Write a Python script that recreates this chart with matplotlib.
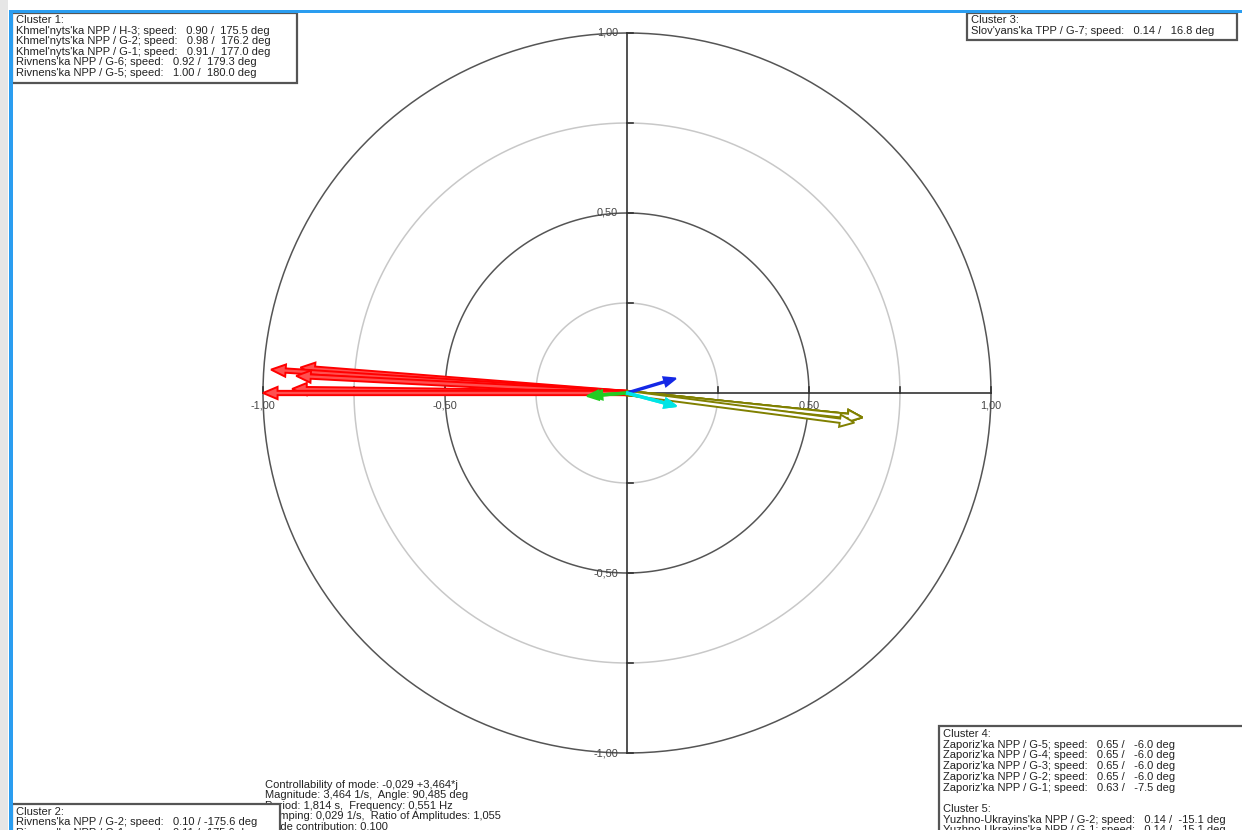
import numpy as np
import matplotlib.pyplot as plt
from matplotlib.patches import Rectangle

plt.rcParams['font.family'] = ['Liberation Sans', 'DejaVu Sans']

# cluster data: machine names, normalized speed magnitude, angle in degrees
c1_names = ["Khmel'nyts'ka NPP / H-3", "Khmel'nyts'ka NPP / G-2", "Khmel'nyts'ka NPP / G-1",
            "Rivnens'ka NPP / G-6", "Rivnens'ka NPP / G-5"]
c1_speed = [0.90, 0.98, 0.91, 0.92, 1.00]
c1_angle = [175.5, 176.2, 177.0, 179.3, 180.0]

c2_names = ["Rivnens'ka NPP / G-2", "Rivnens'ka NPP / G-1"]
c2_speed = [0.10, 0.11]
c2_angle = [-175.6, -175.6]

c3_names = ["Slov'yans'ka TPP / G-7"]
c3_speed = [0.14]
c3_angle = [16.8]

c4_names = ["Zaporiz'ka NPP / G-5", "Zaporiz'ka NPP / G-4", "Zaporiz'ka NPP / G-3",
            "Zaporiz'ka NPP / G-2", "Zaporiz'ka NPP / G-1"]
c4_speed = [0.65, 0.65, 0.65, 0.65, 0.63]
c4_angle = [-6.0, -6.0, -6.0, -6.0, -7.5]

c5_names = ["Yuzhno-Ukrayins'ka NPP / G-2", "Yuzhno-Ukrayins'ka NPP / G-1"]
c5_speed = [0.14, 0.14]
c5_angle = [-15.1, -15.1]

mode_info = ["Controllability of mode: -0,029 +3,464*j",
             "Magnitude: 3,464 1/s,  Angle: 90,485 deg",
             "Period: 1,814 s,  Frequency: 0,551 Hz",
             "Damping: 0,029 1/s,  Ratio of Amplitudes: 1,055",
             "Mode contribution: 0,100"]

ring_values = [0.25, 0.50, 0.75, 1.00]
tick_values = [-1.0, -0.75, -0.5, -0.25, 0.25, 0.5, 0.75, 1.0]
label_values = [-1.0, -0.5, 0.5, 1.0]

W, H = 1242, 830
cx, cy = 627, 393      # plot centre in pixels
rx, ry = 364, 360      # pixels per unit
FS = 8.0

fig = plt.figure(figsize=(W / 100, H / 100), dpi=100)
ax = fig.add_axes([0, 0, 1, 1])
ax.set_xlim(-cx / rx, (W - cx) / rx)
ax.set_ylim((cy - H) / ry, cy / ry)
ax.axis('off')

# rings
t = np.linspace(0, 2 * np.pi, 400)
for r in ring_values:
    col = '#555555' if r in (0.5, 1.0) else '#c8c8c8'
    ax.plot(r * np.cos(t), r * np.sin(t), color=col, lw=1.1, zorder=1)

# axes cross and ticks
ax.plot([-1, 1], [0, 0], color='#333333', lw=1.2, zorder=2)
ax.plot([0, 0], [-1, 1], color='#333333', lw=1.2, zorder=2)
for v in tick_values:
    ax.plot([v, v], [0, 6 / ry], color='#333333', lw=1.2, zorder=2)
    ax.plot([0, 6 / rx], [v, v], color='#333333', lw=1.2, zorder=2)
for v in label_values:
    s = f'{v:.2f}'.replace('.', ',')
    ax.text(v, -13 / ry, s, ha='center', va='center', fontsize=7.8, color='#444444')
    ax.text(-9 / rx, v, s, ha='right', va='center', fontsize=7.8, color='#444444')


def draw_vectors(speed, angle, color, fill, hw, hl, w):
    a = np.radians(angle)
    for s, ang in zip(speed, a):
        ax.arrow(0, 0, s * np.cos(ang), s * np.sin(ang), length_includes_head=True,
                 width=w, head_width=hw, head_length=hl,
                 fc=fill, ec=color, lw=1.4, zorder=3)


draw_vectors(c1_speed, c1_angle, '#ff0000', '#ff5050', 0.034, 0.04, 0.012)
draw_vectors(c4_speed, c4_angle, '#808000', 'white', 0.034, 0.04, 0.012)
draw_vectors(c3_speed, c3_angle, '#1428e6', '#1428e6', 0.026, 0.032, 0.004)
draw_vectors(c2_speed, c2_angle, '#22cc22', '#22cc22', 0.026, 0.032, 0.004)
draw_vectors(c5_speed, c5_angle, '#00e5e5', '#00e5e5', 0.026, 0.032, 0.004)


def fx(px):
    return px / W


def fy(py):
    return 1 - py / H


def box(x0, y0, x1, y1):
    fig.add_artist(Rectangle((fx(x0), fy(y1)), (x1 - x0) / W, (y1 - y0) / H,
                             transform=fig.transFigure, fc='white', ec='#555555',
                             lw=1.6, zorder=5))


def lines(x, y0, step, rows, z=6):
    for i, s in enumerate(rows):
        fig.text(fx(x), fy(y0 + i * step), s, ha='left', va='center',
                 fontsize=FS, color='#222222', zorder=z)


def rows_for(title, names, speed, angle):
    return [title] + [f'{n}; speed:   {s:4.2f} / {a:6.1f} deg'
                      for n, s, a in zip(names, speed, angle)]


# mode information (partly hidden by cluster 2 box)
lines(265, 785, 10.4, mode_info, z=4)

box(12, 13, 297, 83)
lines(16, 20, 10.6, rows_for('Cluster 1:', c1_names, c1_speed, c1_angle))

box(967, 13, 1237, 40)
lines(971, 20, 11, rows_for('Cluster 3:', c3_names, c3_speed, c3_angle))

box(12, 804, 280, 860)
lines(16, 812, 10.4, rows_for('Cluster 2:', c2_names, c2_speed, c2_angle))

box(939, 726, 1260, 860)
lines(943, 734, 10.7, rows_for('Cluster 4:', c4_names, c4_speed, c4_angle)
      + [''] + rows_for('Cluster 5:', c5_names, c5_speed, c5_angle))

# window frame
fig.add_artist(Rectangle((0, 0), fx(8), 1, transform=fig.transFigure,
                         fc='#e6e6e6', ec='none', zorder=7))
fig.add_artist(Rectangle((fx(9), fy(13)), 1, 3 / H, transform=fig.transFigure,
                         fc='#2a9df0', ec='none', zorder=7))
fig.add_artist(Rectangle((fx(9), 0), 4 / W, fy(10), transform=fig.transFigure,
                         fc='#2a9df0', ec='none', zorder=7))

plt.savefig('out.png', dpi=100)
